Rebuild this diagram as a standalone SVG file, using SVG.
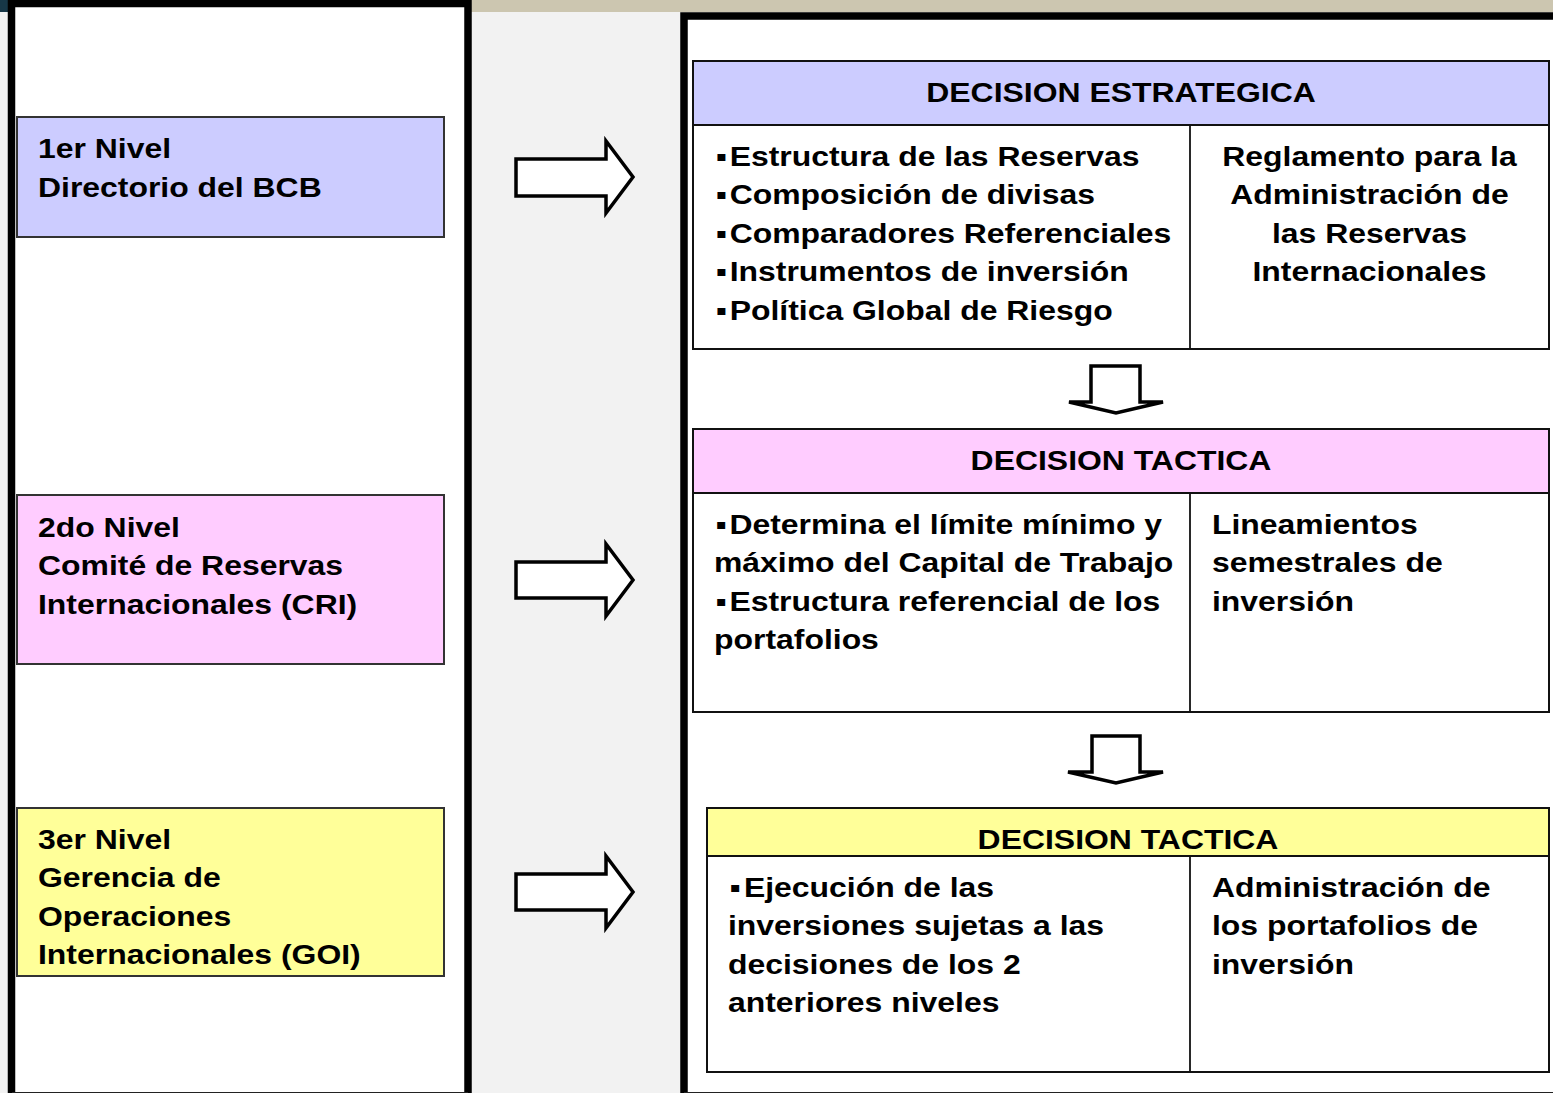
<svg xmlns="http://www.w3.org/2000/svg" width="1553" height="1093" viewBox="0 0 1553 1093">
<style>
.t{font-family:"Liberation Sans",Arial,sans-serif;font-weight:bold;font-size:28px;fill:#000}
.c{text-anchor:middle}
.panel{fill:#fff}
.pb{fill:none;stroke:#000;stroke-width:7.5}
.lvl{stroke:#333;stroke-width:2}
.box{fill:#fff;stroke:#111;stroke-width:2}
.div{stroke:#111;stroke-width:1.8}
.arr{fill:#fff;stroke:#000;stroke-width:3.5;stroke-linejoin:miter;stroke-miterlimit:4}
</style>
<rect x="0" y="0" width="1553" height="1093" fill="#f2f2f2"/>
<rect x="471" y="0" width="1082" height="12" fill="#ccc6b0"/>
<rect x="0" y="0" width="9" height="12" fill="#173747"/>

<g id="left-panel">
<rect class="panel" x="12" y="3" width="456" height="1090"/>
<path class="pb" d="M11.5,1093 V3.5 H468 V1093"/>
<line x1="12" y1="1092.5" x2="468" y2="1092.5" stroke="#222" stroke-width="1.2"/>
</g>
<g id="right-panel">
<rect class="panel" x="684" y="16" width="875" height="1080"/>
<path class="pb" d="M684,1093 V16 H1560"/>
<line x1="684" y1="1092.5" x2="1553" y2="1092.5" stroke="#222" stroke-width="1.2"/>
</g>

<g id="nivel1">
<rect class="lvl" x="17" y="117" width="427" height="120" fill="#ccccff"/>
<text class="t" transform="translate(38,158) scale(1.14,1)"><tspan x="0" y="0">1er Nivel</tspan><tspan x="0" dy="39">Directorio del BCB</tspan></text>
</g>
<g id="nivel2">
<rect class="lvl" x="17" y="495" width="427" height="169" fill="#ffccff"/>
<text class="t" transform="translate(38,537) scale(1.14,1)"><tspan x="0" y="0">2do Nivel</tspan><tspan x="0" dy="38.5">Comité de Reservas</tspan><tspan x="0" dy="38.5">Internacionales (CRI)</tspan></text>
</g>
<g id="nivel3">
<rect class="lvl" x="17" y="808" width="427" height="168" fill="#ffff99"/>
<text class="t" transform="translate(38,849) scale(1.14,1)"><tspan x="0" y="0">3er Nivel</tspan><tspan x="0" dy="38.5">Gerencia de</tspan><tspan x="0" dy="38.5">Operaciones</tspan><tspan x="0" dy="38.5">Internacionales (GOI)</tspan></text>
</g>

<g id="estrategica">
<rect class="box" x="693" y="61" width="856" height="288"/>
<rect x="694" y="62" width="854" height="63" fill="#ccccff"/>
<line class="div" x1="693" y1="125" x2="1549" y2="125"/>
<line class="div" x1="1190" y1="125" x2="1190" y2="349"/>
<text class="t c" transform="translate(1121,102) scale(1.14,1)">DECISION ESTRATEGICA</text>
<text class="t" transform="translate(716,166) scale(1.14,1)"><tspan x="0" y="0">▪</tspan><tspan x="12">Estructura de las Reservas</tspan><tspan x="0" y="38.5">▪</tspan><tspan x="12">Composición de divisas</tspan><tspan x="0" y="77">▪</tspan><tspan x="12">Comparadores Referenciales</tspan><tspan x="0" y="115.5">▪</tspan><tspan x="12">Instrumentos de inversión</tspan><tspan x="0" y="154">▪</tspan><tspan x="12">Política Global de Riesgo</tspan></text>
<text class="t c" transform="translate(1369.5,166) scale(1.14,1)"><tspan x="0" y="0">Reglamento para la</tspan><tspan x="0" y="38.5">Administración de</tspan><tspan x="0" y="77">las Reservas</tspan><tspan x="0" y="115.5">Internacionales</tspan></text>
</g>

<g id="tactica1">
<rect class="box" x="693" y="429" width="856" height="283"/>
<rect x="694" y="430" width="854" height="63" fill="#ffccff"/>
<line class="div" x1="693" y1="493" x2="1549" y2="493"/>
<line class="div" x1="1190" y1="493" x2="1190" y2="712"/>
<text class="t c" transform="translate(1121,470) scale(1.14,1)">DECISION TACTICA</text>
<text class="t" transform="translate(714,534) scale(1.14,1)"><tspan x="1.5" y="0">▪</tspan><tspan x="13.5">Determina el límite mínimo y</tspan><tspan x="0" y="38.5">máximo del Capital de Trabajo</tspan><tspan x="1.5" y="77">▪</tspan><tspan x="13.5">Estructura referencial de los</tspan><tspan x="0" y="115.5">portafolios</tspan></text>
<text class="t" transform="translate(1212,534) scale(1.14,1)"><tspan x="0" y="0">Lineamientos</tspan><tspan x="0" y="38.5">semestrales de</tspan><tspan x="0" y="77">inversión</tspan></text>
</g>

<g id="tactica2">
<rect class="box" x="707" y="808" width="842" height="264"/>
<rect x="708" y="809" width="840" height="47" fill="#ffff99"/>
<line class="div" x1="707" y1="856" x2="1549" y2="856"/>
<line class="div" x1="1190" y1="856" x2="1190" y2="1072"/>
<text class="t c" transform="translate(1128,849) scale(1.14,1)">DECISION TACTICA</text>
<text class="t" transform="translate(728,897) scale(1.14,1)"><tspan x="1.5" y="0">▪</tspan><tspan x="14">Ejecución de las</tspan><tspan x="0" y="38.5">inversiones sujetas a las</tspan><tspan x="0" y="77">decisiones de los 2</tspan><tspan x="0" y="115.5">anteriores niveles</tspan></text>
<text class="t" transform="translate(1212,897) scale(1.14,1)"><tspan x="0" y="0">Administración de</tspan><tspan x="0" y="38.5">los portafolios de</tspan><tspan x="0" y="77">inversión</tspan></text>
</g>

<g id="connectors">
<polygon class="arr" points="516,159 606,159 606,141 633,177 606,213 606,196 516,196"/>
<polygon class="arr" points="516,562 606,562 606,544 633,580 606,616 606,598 516,598"/>
<polygon class="arr" points="516,874 606,874 606,856 633,892 606,928 606,910 516,910"/>
<polygon class="arr" points="1091,366 1140,366 1140,402 1163,402 1116,413 1069,402 1091,402"/>
<polygon class="arr" points="1092,736 1140,736 1140,772 1163,772 1116,783 1068,772 1092,772"/>
</g>
</svg>
